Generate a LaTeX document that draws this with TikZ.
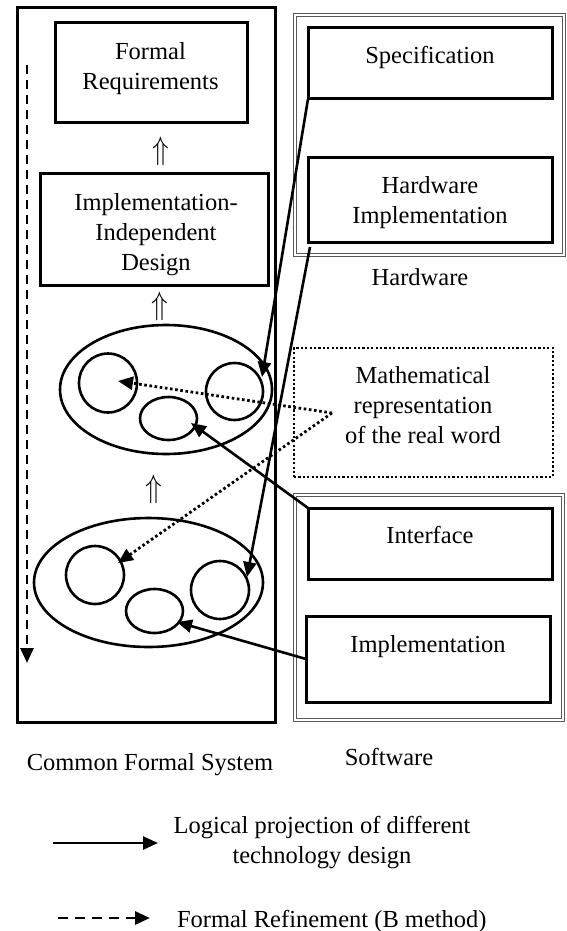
\documentclass[tikz,border=0pt]{standalone}
\usepackage{fontspec}
\setmainfont{Liberation Serif}
\usetikzlibrary{shapes.geometric,arrows.meta,calc}
\newcommand{\bigup}{\scalebox{1.1}[1.3]{$\Uparrow$}}
\begin{document}
\begin{tikzpicture}[x=1pt,y=-1pt,
  every node/.style={inner sep=0pt,outer sep=0pt},
  txt/.style={font=\fontsize{24.5pt}{30pt}\selectfont,align=center,anchor=north},
  box/.style={draw,line width=3pt,rectangle},
  frame/.style={draw,line width=3pt,rectangle},
  dframe/.style={draw=black!65,double=white,line width=0.9pt,double distance=1.6pt,rectangle},
  mathbox/.style={draw,line width=2.2pt,dash pattern=on 2.2pt off 2.2pt,rectangle},
  ell/.style={draw,ellipse,line width=2.6pt},
  tip/.style={-{Triangle[length=15pt,width=13pt]}},
  proj/.style={tip,line width=2.6pt},
  dotarrow/.style={tip,line width=2.8pt,dash pattern=on 2.6pt off 2.6pt},
  refine/.style={tip,line width=2.8pt,dash pattern=on 9pt off 6pt},
  uarr/.style={font=\fontsize{24pt}{24pt}\selectfont}
]
\useasboundingbox (0,0) rectangle (566,931);

% Common formal system
\node[frame,minimum width=258,minimum height=714] (cfs) at (146,365) {};
\node[box,minimum width=192,minimum height=100] (freq) at (151,73) {};
\node[txt] (freqt) at (150.5,43) {Formal\\Requirements};
\node[uarr] (u1) at (161,151) {\bigup};
\node[box,minimum width=228,minimum height=112] (iid) at (154,229) {};
\node[txt] (iidt) at (156,193) {Implementation-\\Independent\\Design};
\node[uarr] (u2) at (160,306) {\bigup};

\node[ell,minimum width=212,minimum height=129] (e1) at (166,389.5) {};
\node[ell,minimum width=58,minimum height=59] (e1a) at (108,383) {};
\node[ell,minimum width=57,minimum height=43] (e1b) at (168.5,418.5) {};
\node[ell,minimum width=57,minimum height=57] (e1c) at (234.5,391.5) {};

\node[uarr] (u3) at (154,489) {\bigup};

\node[ell,minimum width=229,minimum height=129] (e2) at (148.5,582.5) {};
\node[ell,minimum width=58,minimum height=58] (e2a) at (95,575) {};
\node[ell,minimum width=57,minimum height=44] (e2b) at (154.5,611) {};
\node[ell,minimum width=58,minimum height=58] (e2c) at (220,590) {};

\coordinate (rs) at (27,65);
\coordinate (re) at (27,663);
\draw[refine] (rs) -- (re);

\node[txt] (cfst) at (150,753) {Common Formal System};

% Hardware
\node[dframe,minimum width=269,minimum height=240] (hwf) at (429.5,135) {};
\node[box,minimum width=244,minimum height=71] (spec) at (430,63.5) {};
\node[txt] (spect) at (430,46) {Specification};
\node[box,minimum width=244,minimum height=85] (hwimpl) at (430,199.5) {};
\node[txt] (hwimplt) at (430,176) {Hardware\\Implementation};
\node[txt] (hwt) at (420,268) {Hardware};

% Mathematical representation
\node[mathbox,minimum width=259,minimum height=129] (math) at (423.5,412.5) {};
\node[txt] (matht) at (423,366) {Mathematical\\representation\\of the real word};

% Software
\node[dframe,minimum width=268,minimum height=225] (swf) at (429,607.5) {};
\node[box,minimum width=244,minimum height=71] (iface) at (430,543.5) {};
\node[txt] (ifacet) at (430,526) {Interface};
\node[box,minimum width=244,minimum height=86] (simpl) at (428,659) {};
\node[txt] (simplt) at (428,635) {Implementation};
\node[txt] (swt) at (389,748) {Software};

% projections
\draw[proj] (spec.south west) -- ($(e1c.center)+(27.5,-14.5)$);
\draw[proj] ($(hwimpl.south west)+(2,5)$) -- ($(e2c.center)+(27,-13)$);
\draw[proj] (iface.north west) -- ($(e1b.center)+(22.5,4.5)$);
\draw[proj] (simpl.west) -- ($(e2b.center)+(22.5,11)$);

% mathematical representation links
\coordinate (mrep) at (332,413);
\draw[dotarrow] (mrep) -- ($(e1a.center)+(10,-2)$);
\draw[dotarrow] (mrep) -- ($(e2a.center)+(23,-12)$);

% legend
\coordinate (l1s) at (53,843);
\coordinate (l1e) at (158,843);
\draw[proj] (l1s) -- (l1e);
\node[txt] (l1t) at (322,816) {Logical projection of different\\technology design};
\coordinate (l2s) at (58,918);
\coordinate (l2e) at (150,918);
\draw[refine,dash pattern=on 10pt off 7pt] (l2s) -- (l2e);
\node[txt,anchor=north west] (l2t) at (177,910) {Formal Refinement (B method)};
\end{tikzpicture}
\end{document}
